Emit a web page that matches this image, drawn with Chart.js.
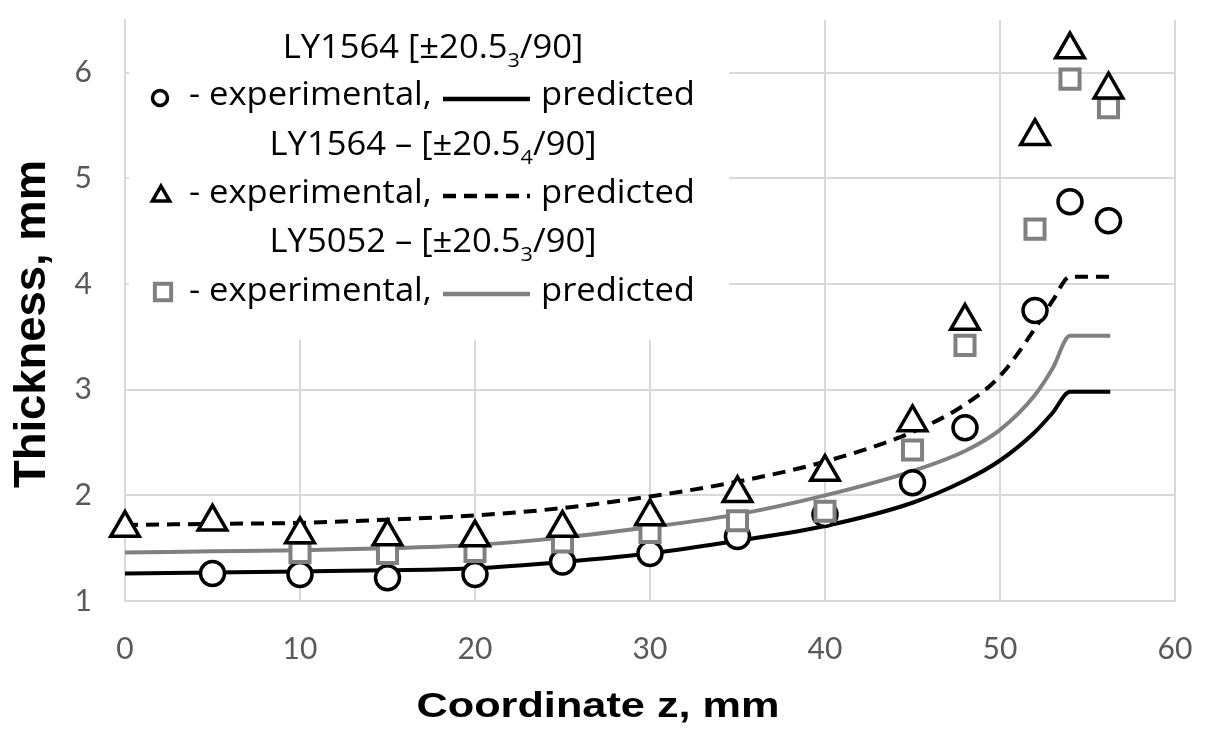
<!DOCTYPE html>
<html>
<head>
<meta charset="utf-8">
<script src="https://cdn.jsdelivr.net/npm/chart.js@4.4.1/dist/chart.umd.min.js"></script>
<style>
  html, body { margin: 0; padding: 0; background: #fff; }
  #wrap { width: 1206px; height: 729px; }
</style>
</head>
<body>
<div id="wrap"><canvas id="grafico" width="1206" height="729"></canvas></div>
<script>
// Pontos experimentais (z em mm, espessura em mm)
const zCircle = [5, 10, 15, 20, 25, 30, 35, 40, 45, 48, 52, 54, 56.2];
const tCircle = [1.26, 1.25, 1.22, 1.25, 1.37, 1.45, 1.61, 1.82, 2.12, 2.64, 3.75, 4.78, 4.60];

const zTriangle = [0, 5, 10, 15, 20, 25, 30, 35, 40, 45, 48, 52, 54, 56.2];
const tTriangle = [1.69, 1.75, 1.63, 1.61, 1.60, 1.69, 1.80, 2.02, 2.22, 2.69, 3.65, 5.40, 6.22, 5.84];

const zSquare = [10, 15, 20, 25, 30, 35, 40, 45, 48, 52, 54, 56.2];
const tSquare = [1.46, 1.45, 1.47, 1.56, 1.65, 1.76, 1.85, 2.43, 3.42, 4.52, 5.94, 5.67];

// Curvas previstas
const zPred = [0, 5, 10, 15, 20, 25, 30, 35, 40, 45, 48, 50, 52, 53, 54, 56.3];
const tPred1564a = [1.26, 1.27, 1.28, 1.29, 1.31, 1.37, 1.45, 1.57, 1.71, 1.93, 2.14, 2.33, 2.60, 2.78, 2.98, 2.98];
const tPred1564b = [1.72, 1.73, 1.74, 1.77, 1.81, 1.88, 1.99, 2.13, 2.32, 2.60, 2.86, 3.13, 3.58, 3.84, 4.07, 4.07];
const tPred5052 = [1.46, 1.47, 1.48, 1.50, 1.53, 1.60, 1.70, 1.82, 2.00, 2.23, 2.42, 2.62, 2.95, 3.20, 3.51, 3.51];

const xTicks = [0, 10, 20, 30, 40, 50, 60];
const yTicks = [1, 2, 3, 4, 5, 6];

// Textos da legenda: [principal, subscrito, final]
const legendHeaders = [
    ['LY1564 [±20.5', '3', '/90]'],
    ['LY1564 – [±20.5', '4', '/90]'],
    ['LY5052 – [±20.5', '3', '/90]']
];

const GREY = '#808080';
const GRID = '#d9d9d9';
const LEGEND_FONT = '"Open Sans"';
const SX = 1.08; // leve alargamento horizontal do texto da legenda

function toPoints(xs, ys) {
    return xs.map((x, i) => ({ x: x, y: ys[i] }));
}

function textWide(ctx, text, x, y) {
    ctx.save();
    ctx.translate(x, y);
    ctx.scale(SX, 1);
    ctx.fillText(text, 0, 0);
    ctx.restore();
}

function drawMarker(ctx, style, x, y, radius, color, width) {
    ctx.save();
    ctx.fillStyle = '#fff';
    ctx.strokeStyle = color;
    ctx.lineWidth = width;
    Chart.helpers.drawPoint(ctx, { pointStyle: style, radius: radius, borderWidth: width, rotation: 0 }, x, y);
    ctx.restore();
}

function drawLegendLine(ctx, y, color, dash) {
    ctx.save();
    ctx.strokeStyle = color;
    ctx.lineWidth = 4.5;
    ctx.setLineDash(dash);
    ctx.beginPath();
    ctx.moveTo(443, y);
    ctx.lineTo(530, y);
    ctx.stroke();
    ctx.restore();
}

// Legenda desenhada dentro da área do gráfico
const legendPlugin = {
    id: 'legendBox',
    beforeDatasetsDraw(chart) {
        const ctx = chart.ctx;
        ctx.save();
        ctx.fillStyle = '#fff';
        ctx.fillRect(129, 8, 600, 332);

        ctx.fillStyle = '#000';
        ctx.textBaseline = 'alphabetic';
        ctx.textAlign = 'left';
        const headerBase = [58, 155, 252];
        const rowBase = [105, 203, 301];

        legendHeaders.forEach((h, i) => {
            ctx.font = '32px ' + LEGEND_FONT;
            const w1 = ctx.measureText(h[0]).width * SX;
            const w3 = ctx.measureText(h[2]).width * SX;
            ctx.font = '20px ' + LEGEND_FONT;
            const w2 = ctx.measureText(h[1]).width * SX;
            let x = 433 - (w1 + w2 + w3) / 2;
            ctx.font = '32px ' + LEGEND_FONT;
            textWide(ctx, h[0], x, headerBase[i]);
            x += w1;
            ctx.font = '20px ' + LEGEND_FONT;
            textWide(ctx, h[1], x, headerBase[i] + 9);
            x += w2;
            ctx.font = '32px ' + LEGEND_FONT;
            textWide(ctx, h[2], x, headerBase[i]);
        });

        ctx.font = '32px ' + LEGEND_FONT;
        rowBase.forEach(b => {
            textWide(ctx, '- experimental,', 189, b);
            textWide(ctx, 'predicted', 541, b);
        });

        drawMarker(ctx, 'circle', 160, 98, 7.5, '#000', 3.5);
        drawMarker(ctx, 'triangle', 161, 196, 10, '#000', 3.5);
        drawMarker(ctx, 'rect', 163, 292, 11.5, GREY, 4);

        drawLegendLine(ctx, 99, '#000', []);
        drawLegendLine(ctx, 196, '#000', [13, 8]);
        drawLegendLine(ctx, 294, GREY, []);
        ctx.restore();
    },
    afterDraw(chart) {
        const ctx = chart.ctx;
        ctx.save();
        ctx.fillStyle = '#000';
        ctx.textAlign = 'center';
        ctx.textBaseline = 'alphabetic';

        // Título do eixo x
        ctx.font = 'bold 35px "Liberation Sans"';
        let w = ctx.measureText('Coordinate z, mm').width;
        ctx.save();
        ctx.translate(598, 717);
        ctx.scale(363 / w, 1);
        ctx.fillText('Coordinate z, mm', 0, 0);
        ctx.restore();

        // Título do eixo y
        ctx.font = 'bold 44px "Liberation Sans"';
        w = ctx.measureText('Thickness, mm').width;
        ctx.save();
        ctx.translate(45, 324);
        ctx.rotate(-Math.PI / 2);
        ctx.scale(328 / w, 1);
        ctx.fillText('Thickness, mm', 0, 0);
        ctx.restore();
        ctx.restore();
    }
};

function noPadding(scale) {
    scale.paddingTop = 0;
    scale.paddingBottom = 0;
    scale.paddingLeft = 0;
    scale.paddingRight = 0;
}

const ctx = document.getElementById('grafico').getContext('2d');
const chart = new Chart(ctx, {
    type: 'scatter',
    data: {
        datasets: [
            {
                label: 'LY1564 [±20.5_3/90] predicted',
                data: toPoints(zPred, tPred1564a),
                showLine: true,
                borderColor: '#000',
                borderWidth: 4,
                pointRadius: 0,
                cubicInterpolationMode: 'monotone',
                order: 10
            },
            {
                label: 'LY1564 [±20.5_4/90] predicted',
                data: toPoints(zPred, tPred1564b),
                showLine: true,
                borderColor: '#000',
                borderWidth: 4,
                borderDash: [13, 8],
                pointRadius: 0,
                cubicInterpolationMode: 'monotone',
                order: 10
            },
            {
                label: 'LY5052 [±20.5_3/90] predicted',
                data: toPoints(zPred, tPred5052),
                showLine: true,
                borderColor: GREY,
                borderWidth: 4,
                pointRadius: 0,
                cubicInterpolationMode: 'monotone',
                order: 10
            },
            {
                label: 'LY1564 [±20.5_3/90] experimental',
                data: toPoints(zCircle, tCircle),
                pointStyle: 'circle',
                pointRadius: 12,
                borderWidth: 3.5,
                borderColor: '#000',
                backgroundColor: '#fff',
                clip: false,
                order: 3
            },
            {
                label: 'LY5052 [±20.5_3/90] experimental',
                data: toPoints(zSquare, tSquare),
                pointStyle: 'rect',
                pointRadius: 13.5,
                borderWidth: 4,
                borderColor: GREY,
                backgroundColor: '#fff',
                clip: false,
                order: 2
            },
            {
                label: 'LY1564 [±20.5_4/90] experimental',
                data: toPoints(zTriangle, tTriangle),
                pointStyle: 'triangle',
                pointRadius: 16.5,
                borderWidth: 3.5,
                borderColor: '#000',
                backgroundColor: '#fff',
                clip: false,
                order: 1
            }
        ]
    },
    options: {
        responsive: false,
        animation: false,
        layout: { padding: { top: 9, right: 31, left: 0, bottom: 0 } },
        plugins: {
            legend: { display: false },
            tooltip: { enabled: false }
        },
        scales: {
            x: {
                type: 'linear',
                min: 0,
                max: 60,
                afterBuildTicks: axis => { axis.ticks = xTicks.map(v => ({ value: v })); },
                afterFit: scale => { scale.height = 128; noPadding(scale); },
                grid: { color: GRID, lineWidth: 2, drawTicks: false },
                border: { display: true, color: GRID, width: 2 },
                ticks: {
                    font: { family: 'Lato', size: 30 },
                    color: '#595959',
                    padding: 30,
                    maxRotation: 0
                }
            },
            y: {
                min: 1,
                max: 6.5,
                afterBuildTicks: axis => { axis.ticks = yTicks.map(v => ({ value: v })); },
                afterFit: scale => { scale.width = 125; noPadding(scale); },
                grid: { color: GRID, lineWidth: 2, drawTicks: false },
                border: { display: true, color: GRID, width: 2 },
                ticks: {
                    font: { family: 'Lato', size: 30 },
                    color: '#595959',
                    padding: 33
                }
            }
        }
    },
    plugins: [legendPlugin]
});
</script>
</body>
</html>
